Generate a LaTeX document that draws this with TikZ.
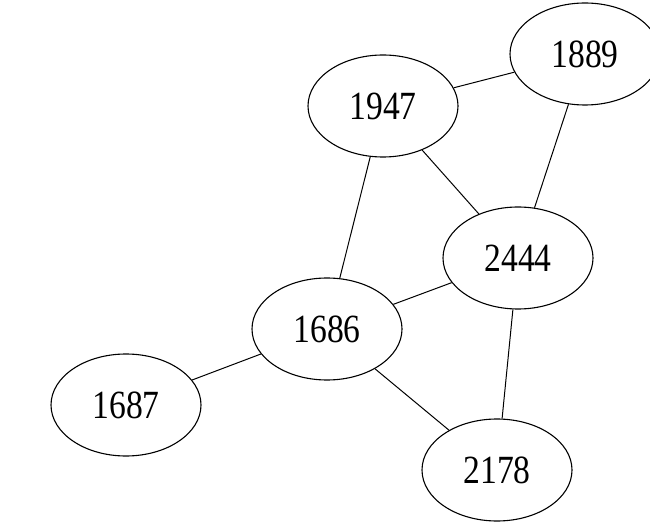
\documentclass[tikz,border=0pt]{standalone}
\usepackage{fontspec}
\setmainfont{Liberation Serif}
\usetikzlibrary{shapes.geometric}
\begin{document}
\begin{tikzpicture}[x=1pt,y=-1pt,
  vbox/.style={draw, ellipse, minimum width=150pt, minimum height=102pt, inner sep=0pt, line width=1.1pt,
    font=\fontsize{40}{44}\selectfont},
  edge/.style={line width=1pt}]
\clip (0,0) rectangle (650,526);
\useasboundingbox (0,0) rectangle (650,526);
\node[vbox] (n1889) at (585,54) {\scalebox{0.84}[1]{1889}};
\node[vbox] (n1947) at (383,106) {\scalebox{0.84}[1]{1947}};
\node[vbox] (n2444) at (518,258) {\scalebox{0.84}[1]{2444}};
\node[vbox] (n1686) at (327,329) {\scalebox{0.84}[1]{1686}};
\node[vbox] (n1687) at (126,405) {\scalebox{0.84}[1]{1687}};
\node[vbox] (n2178) at (497,470) {\scalebox{0.84}[1]{2178}};
\draw[edge] (n1947) -- (n1889);
\draw[edge] (n1947) -- (n2444);
\draw[edge] (n1947) -- (n1686);
\draw[edge] (n1889) -- (n2444);
\draw[edge] (n2444) -- (n1686);
\draw[edge] (n2444) -- (n2178);
\draw[edge] (n1686) -- (n1687);
\draw[edge] (n1686) -- (n2178);
\end{tikzpicture}
\end{document}
